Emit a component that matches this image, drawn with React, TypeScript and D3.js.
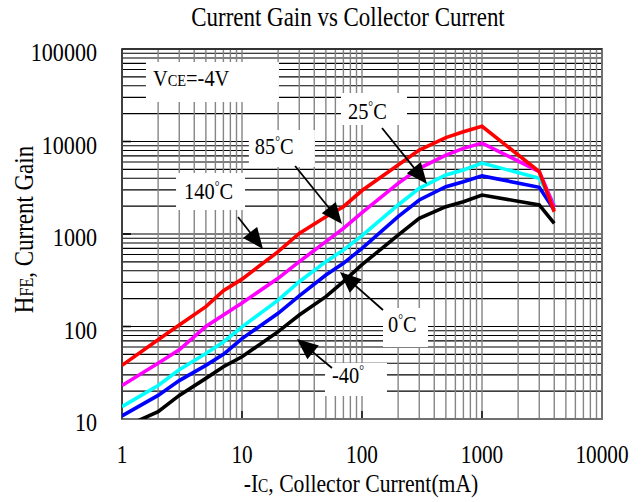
import React from "react";
import * as d3 from "d3";

// ---------- data ----------
const current = [1, 2, 3, 5, 7, 10, 20, 30, 50, 70, 100, 200, 300, 500, 700, 1000, 3000, 4000];
const gain140 = [38, 72, 104, 164, 244, 325, 644, 1016, 1538, 1973, 2950, 5570, 8090, 11000, 12770, 14600, 4720, 1740];
const gain85 = [23, 40, 56, 100, 133, 180, 332, 502, 826, 1151, 1700, 3530, 5130, 7140, 8430, 9600, 4720, 1970];
const gain25 = [13.6, 23, 34, 51, 68, 99, 193, 305, 502, 671, 960, 2060, 3120, 4345, 4920, 5850, 4000, 2100];
const gain0 = [10.8, 18, 26, 38, 50, 74, 139, 214, 360, 482, 700, 1538, 2333, 3250, 3680, 4250, 3200, 1820];
const gainM40 = [8, 12, 18, 27.5, 36.7, 47, 88, 133, 210, 305, 466, 975, 1478, 1973, 2233, 2640, 2060, 1306];

const xTickValues = [1, 10, 100, 1000, 10000];
const xTickLabels = ["1", "10", "100", "1000", "10000"];
const yTickValues = [10, 100, 1000, 10000, 100000];
const yTickLabels = ["10", "100", "1000", "10000", "100000"];

const seriesNames = ["-40°", "0°C", "25°C", "85°C", "140°C"];
const seriesValues = [gainM40, gain0, gain25, gain85, gain140];
const seriesColors = ["#000000", "#0000ff", "#00ffff", "#ff00ff", "#ff0000"];

// annotation anchors in data space
const labelAt = [
  { text: "85", unit: "C", x: 12.8, y: 7328, bx: -6, by: -24, bw: 66, bh: 37 },
  { text: "140", unit: "C", x: 3.29, y: 2390, bx: -8, by: -26, bw: 69, bh: 37 },
  { text: "25", unit: "C", x: 76.4, y: 17500, bx: -7, by: -26, bw: 66, bh: 32 },
  { text: "0", unit: "C", x: 164.7, y: 87.2, bx: -5, by: -24, bw: 45, bh: 39 },
  { text: "-40", unit: "", x: 56.2, y: 24.5, bx: -7, by: -20, bw: 62, bh: 33 },
];
const arrowsAt = [
  { x0: 9.26, y0: 1528, x1: 14.96, y1: 689 },
  { x0: 27.7, y0: 5433, x1: 68.1, y1: 1283 },
  { x0: 146.8, y0: 13990, x1: 348, y1: 3473 },
  { x0: 149.6, y0: 150.8, x1: 65.5, y1: 388 },
  { x0: 56.2, y0: 35.6, x1: 28.7, y1: 73.3 },
];

// ---------- layout ----------
const W = 643, H = 502;
const L = 122, R = 602, T = 49, B = 419;
const FONT = "'Liberation Serif', 'Times New Roman', serif";
const SX = 0.85;

const x = d3.scaleLog().domain([1, 10000]).range([L, R]);
const y = d3.scaleLog().domain([10, 100000]).range([B, T]);

function STxt({ tx, ty, anchor = "start", size = 26, rot = 0, children }: any) {
  return (
    <g transform={`translate(${tx},${ty})${rot ? ` rotate(${rot})` : ""} scale(${SX},1)`}>
      <text textAnchor={anchor} fontSize={size} fontFamily={FONT} fill="#000">
        {children}
      </text>
    </g>
  );
}

function Arrow({ x0, y0, x1, y1 }: any) {
  const dx = x1 - x0, dy = y1 - y0;
  const len = Math.hypot(dx, dy);
  const ux = dx / len, uy = dy / len;
  const hl = 21, hw = 9;
  const bx = x1 - ux * hl, by = y1 - uy * hl;
  const px = -uy, py = ux;
  return (
    <g>
      <line x1={x0} y1={y0} x2={bx + ux * 2} y2={by + uy * 2} stroke="#000" strokeWidth={1.8} />
      <polygon
        points={`${x1},${y1} ${bx + px * hw},${by + py * hw} ${bx - px * hw},${by - py * hw}`}
        fill="#000"
      />
    </g>
  );
}

export default function App() {
  const xGrid: number[] = [];
  [1, 10, 100, 1000].forEach((d) => {
    for (let k = 1; k <= 9; k++) xGrid.push(d * k);
  });
  xGrid.push(10000);
  const yGrid: number[] = [];
  [10, 100, 1000, 10000].forEach((d) => {
    for (let k = 1; k <= 9; k++) yGrid.push(d * k);
  });
  yGrid.push(100000);

  const line = d3
    .line<[number, number]>()
    .x((d) => x(d[0]))
    .y((d) => y(d[1]));

  return (
    <svg
      width={W}
      height={H}
      viewBox={`0 0 ${W} ${H}`}
      style={{ position: "absolute", left: 0, top: 0, background: "#fff" }}
    >
      <defs>
        <clipPath id="plotClip">
          <rect x={L} y={T} width={R - L} height={B - T} />
        </clipPath>
      </defs>
      <rect x={0} y={0} width={W} height={H} fill="#fff" />

      {/* grid */}
      {yGrid.map((v, i) => (
        <line key={"h" + i} x1={L} x2={R} y1={y(v)} y2={y(v)} stroke="#000" strokeWidth={1.1} />
      ))}
      {xGrid.map((v, i) => (
        <line key={"v" + i} x1={x(v)} x2={x(v)} y1={T} y2={B} stroke="#858585" strokeWidth={1.4} />
      ))}
      {/* decade ticks */}
      {xTickValues.slice(1, 4).map((v, i) => (
        <line key={"xt" + i} x1={x(v)} x2={x(v)} y1={B} y2={B - 8} stroke="#333" strokeWidth={2} />
      ))}
      {yTickValues.slice(1).map((v, i) => (
        <line key={"yt" + i} x1={L} x2={L + 9} y1={y(v)} y2={y(v)} stroke="#000" strokeWidth={1.6} />
      ))}
      {/* frame */}
      <rect x={L} y={T} width={R - L} height={B - T} fill="none" stroke="#707070" strokeWidth={2} />
      <line x1={L} x2={L} y1={T} y2={B} stroke="#404040" strokeWidth={2} />
      <line x1={L} x2={R} y1={T} y2={T} stroke="#202020" strokeWidth={1.5} />

      {/* VCE label box */}
      <rect x={x(1.81) - 7} y={y(39800) - 24} width={133} height={40} fill="#fff" />
      <STxt tx={x(1.81)} ty={y(39800)} size={24}>
        <tspan>V</tspan>
        <tspan fontSize={17}>CE</tspan>
        <tspan>=-4V</tspan>
      </STxt>

      {/* temperature label boxes */}
      {labelAt.map((a, i) => (
        <rect
          key={"lb" + i}
          x={x(a.x) + a.bx}
          y={y(a.y) + a.by}
          width={a.bw}
          height={a.bh}
          fill="#fff"
        />
      ))}

      {/* curves */}
      <g clipPath="url(#plotClip)">
        {seriesValues.map((vals, si) => (
          <path
            key={seriesNames[si]}
            d={line(current.map((c, i) => [c, vals[i]] as [number, number])) || ""}
            fill="none"
            stroke={seriesColors[si]}
            strokeWidth={3.6}
          />
        ))}
      </g>

      {/* labels */}
      {labelAt.map((a, i) => (
        <STxt key={"lt" + i} tx={x(a.x)} ty={y(a.y)} size={24}>
          <tspan>{a.text}</tspan>
          <tspan fontSize={14} dy={-8}>°</tspan>
          <tspan dy={8}>{a.unit}</tspan>
        </STxt>
      ))}

      {/* arrows */}
      {arrowsAt.map((a, i) => (
        <Arrow key={"ar" + i} x0={x(a.x0)} y0={y(a.y0)} x1={x(a.x1)} y1={y(a.y1)} />
      ))}

      {/* tick labels */}
      {xTickValues.map((v, i) => (
        <STxt key={"xl" + i} tx={x(v)} ty={463} anchor="middle" size={25}>
          {xTickLabels[i]}
        </STxt>
      ))}
      {yTickValues.map((v, i) => (
        <STxt key={"yl" + i} tx={97} ty={y(v) + 12} anchor="end" size={26}>
          {yTickLabels[i]}
        </STxt>
      ))}

      {/* titles */}
      <STxt tx={348} ty={26} anchor="middle" size={27}>
        Current Gain vs Collector Current
      </STxt>
      <STxt tx={361} ty={492} anchor="middle" size={25.5}>
        <tspan>-I</tspan>
        <tspan fontSize={18}>C</tspan>
        <tspan>, Collector Current(mA)</tspan>
      </STxt>
      <STxt tx={33} ty={229.5} anchor="middle" size={27} rot={-90}>
        <tspan>H</tspan>
        <tspan fontSize={19}>FE</tspan>
        <tspan>, Current Gain</tspan>
      </STxt>
    </svg>
  );
}
